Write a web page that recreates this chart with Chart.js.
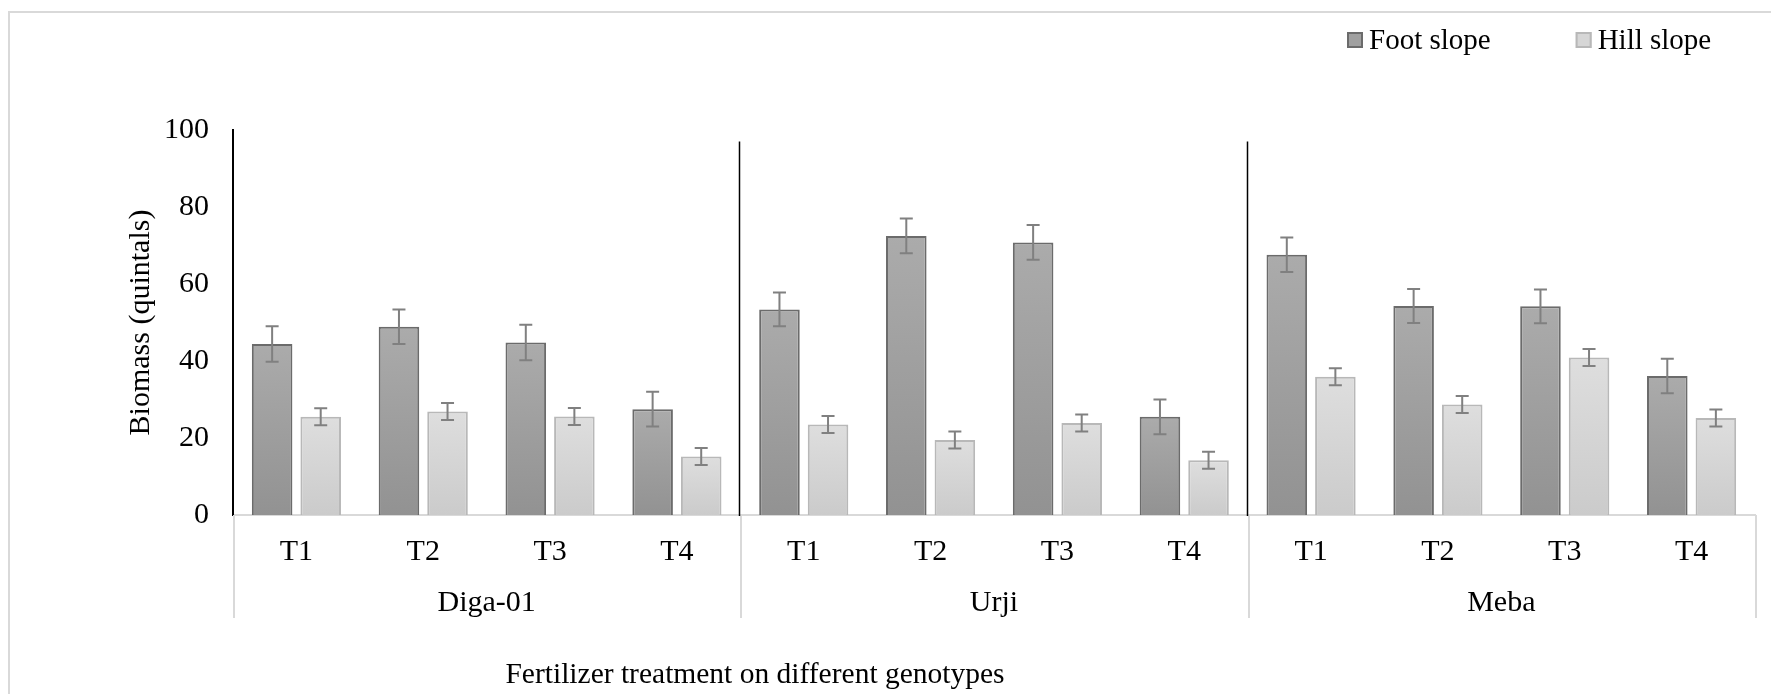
<!DOCTYPE html>
<html>
<head>
<meta charset="utf-8">
<script src="https://cdn.jsdelivr.net/npm/chart.js@4.4.0/dist/chart.umd.min.js"></script>
<style>
html, body { margin: 0; padding: 0; background: #fff; overflow: hidden; }
#wrap { position: relative; width: 1771px; height: 694px; }
#frame { position: absolute; left: 8px; top: 11px; right: -10px; bottom: -10px;
         border-left: 2px solid #d9d9d9; border-top: 2px solid #d9d9d9; }
canvas { position: absolute; left: 0; top: 0; }
</style>
</head>
<body>
<div id="wrap">
  <div id="frame"></div>
  <canvas id="chart" width="1771" height="694"></canvas>
</div>
<script>
// values
var genotypes = ['Diga-01', 'Urji', 'Meba'];
var treatments = ['T1', 'T2', 'T3', 'T4'];
var footSlope = [44.4, 48.9, 44.8, 27.5, 53.4, 72.5, 70.8, 25.5, 67.6, 54.3, 54.2, 36.1];
var hillSlope = [25.5, 26.9, 25.6, 15.2, 23.5, 19.5, 23.9, 14.2, 35.9, 28.7, 40.9, 25.2];
var footErr = [4.6, 4.5, 4.6, 4.5, 4.4, 4.5, 4.5, 4.5, 4.5, 4.4, 4.4, 4.5];
var hillErr = [2.2, 2.2, 2.2, 2.2, 2.2, 2.2, 2.2, 2.2, 2.2, 2.2, 2.2, 2.2];
var seriesNames = ['Foot slope', 'Hill slope'];
var yMin = 0, yMax = 100, yStep = 20;
var xTitle = 'Fertilizer treatment on different genotypes';
var yTitle = 'Biomass (quintals)';

var labels = [];
genotypes.forEach(function () {
    treatments.forEach(function (t) { labels.push(t); });
});

var FONT = 'Liberation Serif, Times New Roman, serif';
Chart.defaults.font.family = FONT;
Chart.defaults.font.size = 30;
Chart.defaults.color = '#000';

// vertical gradient per bar, lighter at the top
function barFill(top, bottom) {
    return function (c) {
        var chart = c.chart;
        var y = chart.scales.y;
        if (!y || c.type !== 'data' || !c.parsed) return bottom;
        var y0 = y.getPixelForValue(0), y1 = y.getPixelForValue(c.parsed.y);
        if (!isFinite(y0) || !isFinite(y1) || y0 === y1) return bottom;
        var g = chart.ctx.createLinearGradient(0, y1, 0, y0);
        g.addColorStop(0, top);
        g.addColorStop(1, bottom);
        return g;
    };
}

var errorBars = {
    id: 'errorBars',
    afterDatasetsDraw: function (chart) {
        var ctx = chart.ctx, y = chart.scales.y;
        ctx.save();
        ctx.strokeStyle = '#808080';
        ctx.lineWidth = 2;
        chart.data.datasets.forEach(function (ds, i) {
            chart.getDatasetMeta(i).data.forEach(function (bar, j) {
                var v = ds.data[j], e = ds.errors[j];
                var hi = y.getPixelForValue(v + e), lo = y.getPixelForValue(v - e);
                ctx.beginPath();
                ctx.moveTo(bar.x, hi); ctx.lineTo(bar.x, lo);
                ctx.moveTo(bar.x - 6.5, hi); ctx.lineTo(bar.x + 6.5, hi);
                ctx.moveTo(bar.x - 6.5, lo); ctx.lineTo(bar.x + 6.5, lo);
                ctx.stroke();
            });
        });
        ctx.restore();
    }
};

// group separators, legend and x title
var decor = {
    id: 'decor',
    afterDraw: function (chart) {
        var ctx = chart.ctx, x = chart.scales.x, x2 = chart.scales.x2, y = chart.scales.y;
        var area = chart.chartArea;
        var n = treatments.length;
        ctx.save();
        for (var g = 0; g <= genotypes.length; g++) {
            var px = Math.round(x.getPixelForValue(g * n - 0.5));
            ctx.strokeStyle = '#d9d9d9';
            ctx.lineWidth = 2;
            ctx.beginPath();
            ctx.moveTo(px + 1, area.bottom);
            ctx.lineTo(px + 1, x2.bottom);
            ctx.stroke();
            if (g > 0 && g < genotypes.length) {
                ctx.strokeStyle = '#000';
                ctx.lineWidth = 1.5;
                ctx.beginPath();
                ctx.moveTo(px - 0.5, y.getPixelForValue(97));
                ctx.lineTo(px - 0.5, area.bottom + 1);
                ctx.stroke();
            }
        }

        // legend
        var lx = 1347, ly = 40;
        ctx.font = '29px ' + FONT;
        ctx.textBaseline = 'middle';
        ctx.textAlign = 'left';
        chart.data.datasets.forEach(function (ds) {
            ctx.fillStyle = ds.legendFill;
            ctx.fillRect(lx, ly - 8, 16, 16);
            ctx.strokeStyle = ds.borderColor;
            ctx.lineWidth = 2;
            ctx.strokeRect(lx + 1, ly - 7, 14, 14);
            ctx.fillStyle = '#000';
            ctx.fillText(ds.label, lx + 22, ly + 1);
            lx += 22 + ctx.measureText(ds.label).width + 85;
        });

        // x axis title
        ctx.font = '29.5px ' + FONT;
        ctx.textAlign = 'center';
        ctx.fillText(xTitle, 755, 675);
        ctx.restore();
    }
};

var ctx = document.getElementById('chart').getContext('2d');
var chart = new Chart(ctx, {
    type: 'bar',
    data: {
        labels: labels,
        datasets: [
            {
                label: seriesNames[0],
                data: footSlope,
                errors: footErr,
                backgroundColor: barFill('#ababab', '#929292'),
                legendFill: '#a0a0a0',
                borderColor: '#6b6b6b',
                borderWidth: 2
            },
            {
                label: seriesNames[1],
                data: hillSlope,
                errors: hillErr,
                backgroundColor: barFill('#dedede', '#cbcbcb'),
                legendFill: '#d6d6d6',
                borderColor: '#b8b8b8',
                borderWidth: 2
            }
        ]
    },
    options: {
        responsive: false,
        animation: false,
        devicePixelRatio: 1,
        categoryPercentage: 0.766,
        barPercentage: 0.835,
        layout: { padding: { top: 130, right: 16, bottom: 76, left: 0 } },
        plugins: {
            legend: { display: false },
            title: { display: false },
            tooltip: { enabled: false }
        },
        scales: {
            x: {
                type: 'category',
                position: 'bottom',
                weight: 0,
                grid: { display: false, drawTicks: false, tickLength: 0 },
                border: { display: true, color: '#d9d9d9', width: 2 },
                ticks: { padding: 19, autoSkip: false, maxRotation: 0 },
                afterFit: function (scale) { scale.height = 52; }
            },
            x2: {
                type: 'category',
                labels: genotypes,
                position: 'bottom',
                weight: 10,
                offset: true,
                grid: { display: false, drawTicks: false, tickLength: 0 },
                border: { display: false },
                ticks: { padding: 18, autoSkip: false, maxRotation: 0 },
                afterFit: function (scale) { scale.height = 51; }
            },
            y: {
                min: yMin,
                max: yMax,
                grid: { display: false, drawTicks: false, tickLength: 0 },
                border: { display: true, color: '#000', width: 2 },
                ticks: { stepSize: yStep, padding: 24 },
                title: {
                    display: true,
                    text: yTitle,
                    font: { size: 30 },
                    padding: { top: 123, bottom: 0 }
                },
                afterFit: function (scale) { scale.width = 233; }
            }
        }
    },
    plugins: [errorBars, decor]
});
</script>
</body>
</html>
